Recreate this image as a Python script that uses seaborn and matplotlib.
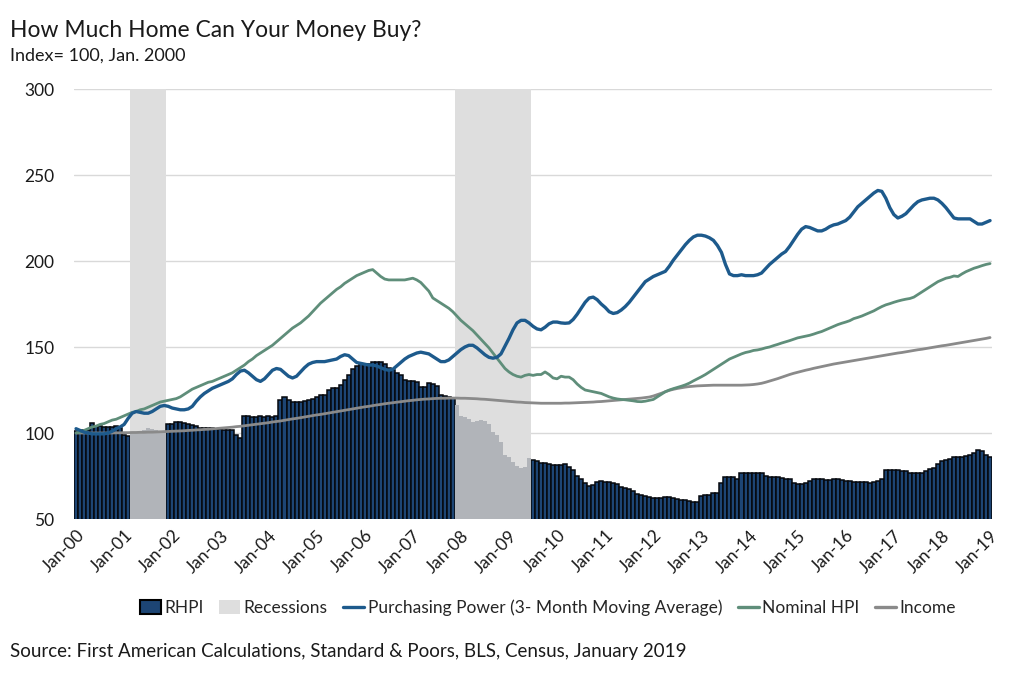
import pandas as pd
import matplotlib.pyplot as plt
import seaborn as sns
from matplotlib.patches import Patch
from matplotlib.lines import Line2D

# Monthly index values, Jan 2000 - Jan 2019 (Jan 2000 = 100)
rhpi = [
    101, 101, 102, 102, 106, 104, 104, 103.5, 103.5, 103.5, 104, 103,          # 2000
    99, 98.5, 100, 100.5, 101, 102, 103, 102.5, 101.5, 101, 100.5, 105.5,      # 2001
    105.5, 106.5, 106.5, 106, 105, 104.5, 104, 103, 103, 103, 103, 102.5,      # 2002
    102.5, 102, 102, 101.5, 99, 97, 110, 110, 109.5, 109.5, 110, 109.5,        # 2003
    110, 109.5, 110, 119, 121, 119, 118, 118, 118, 118.5, 119, 120,            # 2004
    121, 122, 122, 125, 126, 126, 128, 131, 134, 137, 139, 140,                # 2005
    140, 140, 141, 141, 141, 140, 138, 136.5, 135, 133.5, 131, 130,            # 2006
    130, 129.5, 127, 127, 129, 128.5, 127.5, 122, 121.5, 121, 120.5, 116,      # 2007
    110, 109.5, 108, 106.5, 107, 107.5, 107, 105.5, 100.5, 99, 95, 87,         # 2008
    86, 83, 81, 79.5, 80.5, 85.5, 84.5, 83.5, 82.5, 82.5, 82, 81.5,            # 2009
    81.5, 81.5, 82, 80, 78.5, 75, 73, 71, 69, 70, 71.5, 72,                    # 2010
    71.5, 71.5, 71, 70.5, 68.5, 68, 67.5, 66, 64.5, 64, 63.5, 63,              # 2011
    62.5, 62, 62.5, 63, 63, 62, 61.5, 61, 61, 60.5, 60, 60,                    # 2012
    63.5, 64, 64, 65, 65, 71, 74.5, 74.5, 74.5, 73.5, 76.5, 76.5,              # 2013
    77, 77, 76.5, 76.5, 75, 74.5, 74.5, 74.5, 74, 73.5, 73, 71,                # 2014
    70.5, 70.5, 71, 72, 73, 73.5, 73, 72.5, 72.5, 73, 73, 72.5,                # 2015
    72, 72, 71.5, 71.5, 71.5, 71.5, 71, 71.5, 72, 73, 78.5, 78.5,              # 2016
    78.5, 78.5, 78, 78, 77, 76.5, 76.5, 77, 78, 79, 79.5, 82,                  # 2017
    83.5, 84.5, 85, 86, 86, 86, 86.5, 87, 88.5, 90, 89.5, 87,                  # 2018
    86,                                                                        # 2019
]

purchasing_power = [
    102.5, 101.5, 100.5, 100, 99.5, 99.5, 99.5, 99.5, 100, 101, 102.5, 103.5,
    105, 108.5, 111.5, 112.5, 112, 111.5, 111.5, 112.5, 114, 115.5, 116, 115.5,
    114.5, 114, 113.5, 113.5, 114, 115.5, 118.5, 121, 123, 124.5, 126, 127,
    128, 129, 130, 131.5, 134, 136, 136.5, 135, 133, 131, 130, 131.5,
    134, 136.5, 137.5, 137, 135, 133, 132, 133, 135.5, 138, 140, 141,
    141.5, 141.5, 141.5, 142, 142.5, 143, 144.5, 145.5, 145, 143, 141, 140.5,
    140, 139.5, 139.5, 139, 138, 137, 136.5, 137, 139, 141, 143, 144.5,
    145.5, 146.5, 147, 146.5, 146, 144.5, 143, 141.5, 141.5, 142.5, 144.5, 146.5,
    148.5, 150, 151, 151, 149.5, 147.5, 145.5, 144, 143.5, 144, 146, 150.5,
    155, 160, 164, 165.5, 165.5, 164, 162, 160.5, 160, 161.5, 163.5, 164.5,
    164.5, 164, 163.8, 164, 166, 169, 172.5, 176, 178.5, 179, 177.5, 175,
    173, 170.5, 169.5, 170, 171.5, 173.5, 176, 179, 182, 185, 188, 189.5,
    191, 192, 193, 194, 197, 200.5, 203.5, 206.5, 209.5, 212, 214, 215,
    215, 214.5, 213.5, 212, 209, 205, 198, 192.5, 191.5, 191.5, 192, 191.5,
    191.5, 191.5, 192, 193, 195.5, 198, 200, 202, 204, 205.5, 208.5, 212,
    215.5, 218.5, 220, 219.5, 218.5, 217.5, 217.5, 218.5, 220, 221, 221.5, 222.5,
    223.5, 225.5, 228.5, 231.5, 233.5, 235.5, 237.5, 239.5, 241, 240.5, 236.5, 231,
    227, 225, 226, 227.5, 230, 232.5, 234.5, 235.5, 236, 236.5, 236.5, 235.5,
    233.5, 231, 228, 225, 224.5, 224.5, 224.5, 224.5, 223, 221.5, 221.5, 222.5,
    223.5,
]

nominal_hpi = [
    100, 100.5, 101.5, 102.5, 103.5, 104, 105, 105.5, 106.5, 107.5, 108, 109,
    110, 111, 112, 112.5, 113.5, 114, 115, 116, 117, 118, 118.5, 119,
    119.5, 120, 121, 122.5, 124, 125.5, 126.5, 127.5, 128.5, 129.5, 130, 131,
    132, 133, 134, 135, 136.5, 138, 139.5, 141.5, 143, 145, 146.5, 148,
    149.5, 151, 153, 155, 157, 159, 161, 162.5, 164, 166, 168, 170.5,
    173, 175.5, 177.5, 179.5, 181.5, 183.5, 185, 187, 188.5, 190, 191.5, 192.5,
    193.5, 194.5, 195, 193, 191, 189.5, 189, 189, 189, 189, 189, 189.5,
    190, 189, 187.5, 185, 182.5, 178.5, 177, 175.5, 174, 172.5, 170.5, 168,
    165.5, 163.5, 161.5, 159.5, 157, 154.5, 152, 149.5, 146.5, 143.5, 140.5, 137.5,
    135.5, 134, 133, 132.5, 133.5, 134, 133.5, 134, 134, 135.5, 134, 132,
    131.5, 133, 132.5, 132.5, 131, 128.5, 126.5, 125, 124.5, 124, 123.5, 123,
    122, 121, 120.3, 119.8, 119.5, 119.3, 119, 118.7, 118.3, 118.2, 118.5, 119,
    119.5, 121, 122.5, 124, 125, 125.8, 126.5, 127.2, 128, 129, 130.3, 131.5,
    132.7, 134, 135.5, 137, 138.5, 140, 141.5, 143, 144, 145, 146, 146.8,
    147.3, 148, 148.3, 148.8, 149.5, 150, 150.8, 151.5, 152.3, 153, 153.7, 154.5,
    155.3, 155.8, 156.3, 156.8, 157.5, 158.3, 159, 160, 161, 162, 163, 163.8,
    164.5, 165.3, 166.5, 167.2, 168, 169, 170, 171, 172.3, 173.5, 174.5, 175.2,
    176, 176.7, 177.3, 177.8, 178.2, 179, 180.5, 182, 183.5, 185, 186.5, 188,
    189, 190, 190.5, 191.3, 191, 192.5, 193.8, 194.8, 195.8, 196.5, 197.3, 198,
    198.5,
]

income = [
    100, 100, 100, 100, 100, 100, 100, 100, 100, 100, 100.1, 100.1,
    100.2, 100.2, 100.3, 100.3, 100.4, 100.4, 100.5, 100.5, 100.6, 100.7, 100.8, 100.9,
    101, 101.1, 101.2, 101.3, 101.5, 101.6, 101.8, 101.9, 102.1, 102.2, 102.4, 102.6,
    102.8, 103, 103.2, 103.4, 103.7, 103.9, 104.2, 104.5, 104.8, 105.1, 105.4, 105.7,
    106, 106.4, 106.7, 107, 107.4, 107.8, 108.2, 108.5, 108.9, 109.3, 109.7, 110.1,
    110.5, 110.8, 111.2, 111.6, 112, 112.4, 112.8, 113.2, 113.6, 114, 114.4, 114.8,
    115.2, 115.5, 115.9, 116.3, 116.6, 117, 117.3, 117.6, 117.9, 118.2, 118.5, 118.8,
    119, 119.3, 119.5, 119.7, 119.8, 120, 120.1, 120.2, 120.2, 120.3, 120.3, 120.3,
    120.2, 120.2, 120.1, 120, 119.9, 119.7, 119.6, 119.4, 119.2, 119, 118.8, 118.6,
    118.4, 118.2, 118, 117.9, 117.7, 117.6, 117.5, 117.4, 117.3, 117.3, 117.3, 117.3,
    117.3, 117.3, 117.4, 117.4, 117.5, 117.6, 117.7, 117.8, 117.9, 118, 118.2, 118.3,
    118.5, 118.7, 118.9, 119.1, 119.3, 119.5, 119.7, 119.9, 120.1, 120.3, 120.6, 120.9,
    121.5, 122.3, 123.1, 124, 124.8, 125.4, 125.9, 126.3, 126.7, 127, 127.2, 127.4,
    127.5, 127.6, 127.7, 127.8, 127.8, 127.8, 127.8, 127.8, 127.8, 127.8, 127.8, 127.9,
    128, 128.2, 128.5, 128.9, 129.5, 130.2, 130.9, 131.6, 132.4, 133.2, 134, 134.7,
    135.3, 135.9, 136.5, 137, 137.6, 138.1, 138.6, 139.1, 139.6, 140.1, 140.5, 140.9,
    141.3, 141.7, 142.1, 142.5, 142.9, 143.3, 143.7, 144.1, 144.5, 144.9, 145.3, 145.7,
    146.1, 146.5, 146.8, 147.2, 147.6, 148, 148.4, 148.7, 149.1, 149.5, 149.9, 150.3,
    150.7, 151, 151.4, 151.8, 152.2, 152.6, 153, 153.4, 153.8, 154.2, 154.6, 155,
    155.5,
]

recession_starts = ['2001-03', '2007-12']
recession_ends = ['2001-11', '2009-06']

tick_labels = ['Jan-00', 'Jan-01', 'Jan-02', 'Jan-03', 'Jan-04', 'Jan-05', 'Jan-06',
               'Jan-07', 'Jan-08', 'Jan-09', 'Jan-10', 'Jan-11', 'Jan-12', 'Jan-13',
               'Jan-14', 'Jan-15', 'Jan-16', 'Jan-17', 'Jan-18', 'Jan-19']

# colours
navy = '#1d4574'
rec_bar = '#b1b4b9'
band = '#dedede'
blue = '#1d5a8c'
green = '#5f8e7a'
grey = '#8a8a8a'

dates = pd.date_range('2000-01-01', periods=len(rhpi), freq='MS')
df = pd.DataFrame({
    'm': range(len(rhpi)),
    'date': dates,
    'RHPI': rhpi,
    'PP': purchasing_power,
    'HPI': nominal_hpi,
    'Income': income,
})


def month_idx(s):
    d = pd.Timestamp(s + '-01')
    return (d.year - 2000) * 12 + d.month - 1


df['recession'] = False
spans = []
for s, e in zip(recession_starts, recession_ends):
    a, b = month_idx(s), month_idx(e)
    spans.append((a, b))
    df.loc[(df['m'] >= a) & (df['m'] <= b), 'recession'] = True

sns.set_style('white')
plt.rcParams['font.family'] = ['Lato', 'DejaVu Sans']

fig = plt.figure(figsize=(10.24, 6.82), dpi=100)
ax = fig.add_axes([0.0723, 0.239, 0.8965, 0.6305])

# recession shading
for a, b in spans:
    ax.axvspan(a - 0.5, b + 0.5, color=band, zorder=1, lw=0)

# bars
sns.barplot(data=df[~df['recession']], x='m', y='RHPI', native_scale=True,
            width=1.0, color=navy, saturation=1, edgecolor='#05080d',
            linewidth=1.1, errorbar=None, ax=ax, zorder=2)
sns.barplot(data=df[df['recession']], x='m', y='RHPI', native_scale=True,
            width=1.0, color=rec_bar, saturation=1, linewidth=0,
            errorbar=None, ax=ax, zorder=2)

# lines
sns.lineplot(data=df, x='m', y='Income', color=grey, linewidth=2.0, ax=ax, zorder=3)
sns.lineplot(data=df, x='m', y='HPI', color=green, linewidth=2.0, ax=ax, zorder=3)
sns.lineplot(data=df, x='m', y='PP', color=blue, linewidth=2.4, ax=ax, zorder=4)

ax.set_ylim(50, 300)
ax.set_yticks([50, 100, 150, 200, 250, 300])
ax.set_xlim(-0.5, len(rhpi) - 0.5)
ax.set_xticks(range(0, len(rhpi), 12))
ax.set_xticklabels(tick_labels, rotation=45, ha='right', rotation_mode='anchor')
ax.set_xlabel('')
ax.set_ylabel('')
ax.grid(axis='y', color='#d9d9d9', linewidth=1, zorder=0)
ax.set_axisbelow(True)
for sp in ax.spines.values():
    sp.set_visible(False)
ax.tick_params(axis='both', length=0, labelsize=12.5, colors='#1a1a1a')
ax.tick_params(axis='y', pad=14)
ax.tick_params(axis='x', pad=6)

fig.text(0.010, 0.956, 'How Much Home Can Your Money Buy?', fontsize=16.5,
         color='#1a1a1a', va='center')
fig.text(0.010, 0.918, 'Index= 100, Jan. 2000', fontsize=13, color='#1a1a1a', va='center')
fig.text(0.010, 0.045, 'Source: First American Calculations, Standard & Poors, BLS, Census, January 2019',
         fontsize=13.5, color='#1a1a1a', va='center')

handles = [
    Patch(facecolor=navy, edgecolor='black', linewidth=1.5),
    Patch(facecolor=band, edgecolor='none'),
    Line2D([], [], color=blue, linewidth=2.4),
    Line2D([], [], color=green, linewidth=2.4),
    Line2D([], [], color=grey, linewidth=2.4),
]
labels = ['RHPI', 'Recessions', 'Purchasing Power (3- Month Moving Average)',
          'Nominal HPI', 'Income']
fig.legend(handles, labels, loc='center', bbox_to_anchor=(0.535, 0.1085), ncol=5,
           frameon=False, fontsize=12.5, handlelength=1.2, handleheight=0.9,
           handletextpad=0.2, columnspacing=0.9)

plt.savefig('out.png', dpi=100)
